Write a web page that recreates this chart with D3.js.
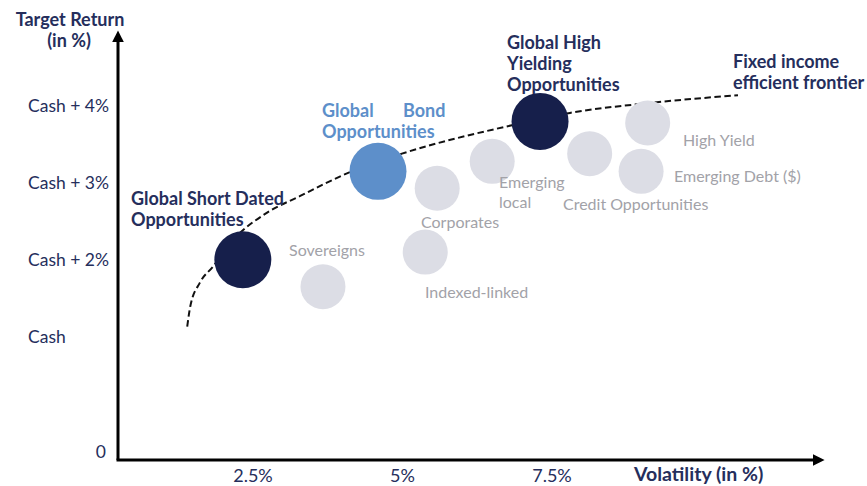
<!DOCTYPE html>
<html>
<head>
<meta charset="utf-8">
<script src="https://cdn.jsdelivr.net/npm/d3@7"></script>
<style>
  body { margin: 0; background: #fff; }
  svg { font-family: Lato, "Open Sans", sans-serif; }
</style>
</head>
<body>
<div id="chart"></div>
<script>
// Data
const strategies = ['Global Short Dated Opportunities', 'Global Bond Opportunities', 'Global High Yielding Opportunities'];
const strategyVol = [2.33, 4.59, 7.30];
const strategyRet = [2.50, 3.65, 4.30];

const sectors = ['Sovereigns', 'Indexed-linked', 'Corporates', 'Emerging local', 'Credit Opportunities', 'High Yield', 'Emerging Debt ($)'];
const sectorVol = [3.67, 5.38, 5.58, 6.50, 8.13, 9.10, 8.99];
const sectorRet = [2.15, 2.60, 3.43, 3.78, 3.88, 4.28, 3.65];

const frontierVol = [1.40, 1.45, 1.61, 1.83, 2.17, 2.73, 3.29, 4.12, 4.99, 6.83, 7.80, 9.14, 10.61];
const frontierRet = [1.63, 1.89, 2.20, 2.41, 2.76, 3.11, 3.33, 3.64, 3.88, 4.25, 4.41, 4.54, 4.64];

const xTicks = [2.5, 5, 7.5];
const xTickLabels = ['2.5%', '5%', '7.5%'];
const yTicks = [0, 1.5, 2.5, 3.5, 4.5];
const yTickLabels = ['0', 'Cash', 'Cash + 2%', 'Cash + 3%', 'Cash + 4%'];

// Styles
const NAVY_TEXT = '#252e5c';
const NAVY = '#161f4b';
const BLUE = '#5d8fca';
const GREY = '#dcdde5';
const GREY_TEXT = '#a2a2a8';

const width = 867, height = 486;
const svg = d3.select('#chart').append('svg')
  .attr('width', width).attr('height', height);

const x = d3.scaleLinear().domain([0, 10]).range([103.5, 701.5]);
const y = d3.scaleLinear().domain([0, 4.5]).range([452, 106]);

const defs = svg.append('defs');
defs.append('marker')
  .attr('id', 'arrow')
  .attr('viewBox', '0 0 10 10')
  .attr('refX', 2).attr('refY', 5)
  .attr('markerWidth', 4).attr('markerHeight', 4)
  .attr('orient', 'auto')
  .append('path')
  .attr('d', 'M0,0 L10,5 L0,10 Z')
  .attr('fill', '#000');

// Axes
const originX = 118, originY = 460;
svg.append('path')
  .attr('d', `M${originX},${originY} L${originX},40`)
  .attr('stroke', '#000').attr('stroke-width', 3).attr('fill', 'none')
  .attr('marker-end', 'url(#arrow)');
svg.append('path')
  .attr('d', `M${originX - 1.5},${originY} L815,${originY}`)
  .attr('stroke', '#000').attr('stroke-width', 3).attr('fill', 'none')
  .attr('marker-end', 'url(#arrow)');

// Tick labels
svg.append('g').selectAll('text')
  .data(xTicks)
  .join('text')
  .attr('x', d => x(d))
  .attr('y', 482)
  .attr('text-anchor', 'middle')
  .attr('font-size', 18)
  .attr('fill', NAVY_TEXT)
  .text((d, i) => xTickLabels[i]);

svg.append('g').selectAll('text')
  .data(yTicks)
  .join('text')
  .attr('x', d => d === 0 ? 106 : 28)
  .attr('y', d => y(d) + 6)
  .attr('text-anchor', d => d === 0 ? 'end' : 'start')
  .attr('font-size', 17.5)
  .attr('fill', NAVY_TEXT)
  .text((d, i) => yTickLabels[i]);

// Axis titles
const yTitle = svg.append('text')
  .attr('text-anchor', 'middle')
  .attr('font-size', 18).attr('font-weight', 'bold')
  .attr('fill', NAVY_TEXT);
yTitle.append('tspan').attr('x', 70).attr('y', 26).text('Target Return');
yTitle.append('tspan').attr('x', 69).attr('y', 47).text('(in %)');

svg.append('text')
  .attr('x', 634).attr('y', 481)
  .attr('font-size', 19.5).attr('font-weight', 'bold')
  .attr('fill', NAVY_TEXT)
  .text('Volatility (in %)');

// Frontier
const frontier = frontierVol.map((v, i) => [v, frontierRet[i]]);
svg.append('path')
  .datum(frontier)
  .attr('d', d3.line().x(d => x(d[0])).y(d => y(d[1])).curve(d3.curveMonotoneX))
  .attr('fill', 'none')
  .attr('stroke', '#111')
  .attr('stroke-width', 2)
  .attr('stroke-dasharray', '6.5,3.5');

// Sector bubbles
svg.append('g').selectAll('circle')
  .data(sectors)
  .join('circle')
  .attr('cx', (d, i) => x(sectorVol[i]))
  .attr('cy', (d, i) => y(sectorRet[i]))
  .attr('r', 22.5)
  .attr('fill', GREY);

// Strategy bubbles
svg.append('g').selectAll('circle')
  .data(strategies)
  .join('circle')
  .attr('cx', (d, i) => x(strategyVol[i]))
  .attr('cy', (d, i) => y(strategyRet[i]))
  .attr('r', 28.5)
  .attr('fill', (d, i) => i === 1 ? BLUE : NAVY);

// Labels
function multiline(lines, px, py, opts) {
  const t = svg.append('text')
    .attr('font-size', opts.size)
    .attr('font-weight', opts.weight || 'normal')
    .attr('fill', opts.color);
  lines.forEach((line, i) => {
    t.append('tspan').attr('x', px).attr('y', py + i * opts.lh).text(line);
  });
  return t;
}

const bold = { size: 18, weight: 'bold', color: NAVY_TEXT, lh: 21 };
multiline(['Global Short Dated', 'Opportunities'], 131, 205, bold);
multiline(['Global High', 'Yielding', 'Opportunities'], 507, 49, bold);
multiline(['Fixed income', 'efficient frontier'], 733, 68, bold);

const blueLbl = { size: 18, weight: 'bold', color: BLUE, lh: 21 };
multiline(['Global', 'Opportunities'], 322, 117, blueLbl);
multiline(['Bond'], 403, 117, blueLbl);

const grey = { size: 16, color: GREY_TEXT, lh: 20 };
multiline(['Sovereigns'], 289, 256, grey);
multiline(['Corporates'], 421, 228, grey);
multiline(['Indexed-linked'], 425, 298, grey);
multiline(['Emerging', 'local'], 499, 188, grey);
multiline(['Credit Opportunities'], 563, 210, grey);
multiline(['High Yield'], 683, 146, grey);
multiline(['Emerging Debt ($)'], 674, 182, grey);
</script>
</body>
</html>
